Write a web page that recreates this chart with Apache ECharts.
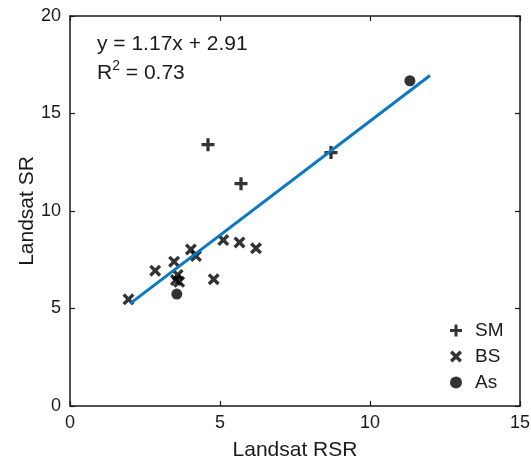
<!DOCTYPE html>
<html>
<head>
<meta charset="utf-8">
<script src="https://cdn.jsdelivr.net/npm/echarts@6/dist/echarts.min.js"></script>
<style>
  html, body { margin: 0; padding: 0; background: #fff; }
  #chart { width: 531px; height: 462px; }
</style>
</head>
<body>
<div id="chart"></div>
<script>
    // values
    var smPoints = [[4.6, 13.4], [5.7, 11.4], [8.7, 13.0]];
    var bsPoints = [[1.95, 5.47], [2.84, 6.94], [3.47, 7.40], [3.59, 6.72], [3.53, 6.46], [3.64, 6.37],
        [4.03, 8.03], [4.2, 7.69], [4.79, 6.5], [5.11, 8.51], [5.65, 8.39], [6.2, 8.09]];
    var asPoints = [[3.56, 5.74], [11.33, 16.68]];
    var fitLine = [[2, 5.25], [12, 16.95]];
    var xTicks = [0, 5, 10, 15];
    var yTicks = [0, 5, 10, 15, 20];

    var plusPath = 'path://M3,0H5V3H8V5H5V8H3V5H0V3H3Z';
    var crossPath = 'path://M0,2L2,0L5,3L8,0L10,2L7,5L10,8L8,10L5,7L2,10L0,8L3,5Z';
    var font = 'Arial, "Liberation Sans", sans-serif';
    var ink = '#1a1a1a';

    var myChart = echarts.init(document.getElementById('chart'));

    var axisLine = { show: true, onZero: false, lineStyle: { color: ink, width: 1.5 } };
    var axisTick = { show: true, inside: true, length: 5, lineStyle: { color: ink, width: 1.2 } };

    var option = {
        backgroundColor: '#fff',
        animation: false,
        grid: { left: 70, right: 11, top: 16, bottom: 56, outerBoundsMode: 'none' },
        title: {
            left: 92, top: 25,
            text: 'y = 1.17x + 2.91\nR{sup|2} = 0.73',
            textStyle: {
                fontFamily: font, fontSize: 21, fontWeight: 'normal', color: ink, lineHeight: 29,
                rich: { sup: { fontFamily: font, fontSize: 14, color: ink, verticalAlign: 'top', lineHeight: 29, padding: [0, 0, 10, 0] } }
            }
        },
        legend: {
            orient: 'vertical', left: 445, top: 316, itemGap: 7,
            itemWidth: 12, itemHeight: 12,
            textStyle: { fontFamily: font, fontSize: 19, color: ink, padding: [0, 0, 0, 8] },
            data: [
                { name: 'SM', icon: plusPath },
                { name: 'BS', icon: crossPath },
                { name: 'As', icon: 'circle' }
            ]
        },
        xAxis: [{
            type: 'value', min: xTicks[0], max: xTicks[xTicks.length - 1], interval: 5,
            name: 'Landsat RSR', nameLocation: 'middle', nameGap: 34, nameMoveOverlap: false,
            nameTextStyle: { fontFamily: font, fontSize: 21, color: ink },
            axisLine: axisLine, axisTick: axisTick, splitLine: { show: false },
            axisLabel: { fontFamily: font, fontSize: 18, color: ink, margin: 8 }
        }, {
            type: 'value', position: 'top', min: 0, max: 15, interval: 5,
            axisLine: axisLine, axisTick: axisTick, splitLine: { show: false },
            axisLabel: { show: false }
        }],
        yAxis: [{
            type: 'value', min: yTicks[0], max: yTicks[yTicks.length - 1], interval: 5,
            name: 'Landsat SR', nameLocation: 'middle', nameGap: 32, nameMoveOverlap: false,
            nameTextStyle: { fontFamily: font, fontSize: 21, color: ink },
            axisLine: axisLine, axisTick: axisTick, splitLine: { show: false },
            axisLabel: { fontFamily: font, fontSize: 18, color: ink, margin: 9 }
        }, {
            type: 'value', position: 'right', min: 0, max: 20, interval: 5,
            axisLine: axisLine, axisTick: axisTick, splitLine: { show: false },
            axisLabel: { show: false }
        }],
        series: [{
            name: 'fit', type: 'line', data: fitLine, symbol: 'none', z: 3,
            lineStyle: { color: '#0a78c2', width: 3 }
        }, {
            name: 'SM', type: 'scatter', data: smPoints, symbol: plusPath, symbolSize: 13, z: 2,
            itemStyle: { color: '#000' }
        }, {
            name: 'BS', type: 'scatter', data: bsPoints, symbol: crossPath, symbolSize: 12, z: 2,
            itemStyle: { color: '#000' }
        }, {
            name: 'As', type: 'scatter', data: asPoints, symbol: 'circle', symbolSize: 11, z: 2,
            itemStyle: { color: '#000' }
        }]
    };

    myChart.setOption(option);
</script>
</body>
</html>
